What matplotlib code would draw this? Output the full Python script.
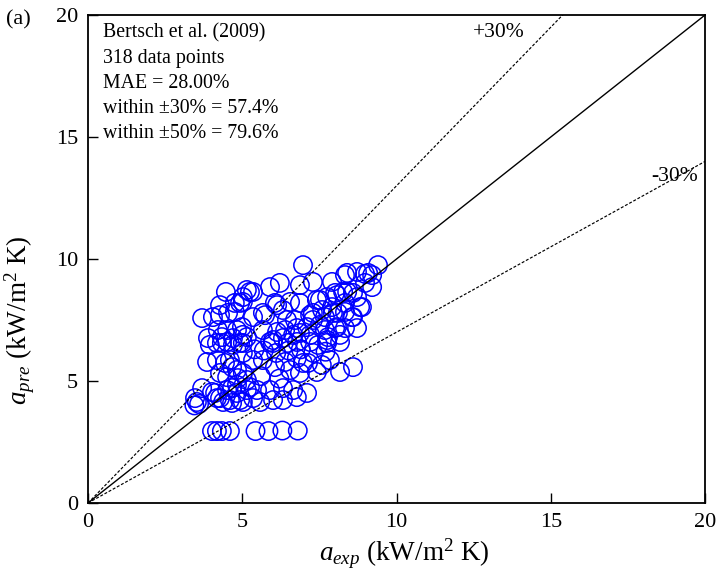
import matplotlib
matplotlib.use("Agg")
import matplotlib.pyplot as plt
import numpy as np

plt.rcParams["font.family"] = ["Liberation Serif", "DejaVu Serif"]
plt.rcParams["mathtext.fontset"] = "custom"
plt.rcParams["mathtext.rm"] = "Liberation Serif"
plt.rcParams["mathtext.it"] = "Liberation Serif:italic"

# experimental vs. predicted heat transfer coefficient (kW/m2 K)
a_exp = [
    4.47, 3.70, 4.05, 4.28, 4.54, 4.76, 4.93, 5.15, 3.89, 4.34, 4.70, 5.02,
    4.21, 4.83, 3.95, 4.34, 4.70, 5.02, 3.86, 4.18, 4.44, 4.67, 4.83, 5.02,
    4.28, 4.51, 3.70, 3.47, 3.53, 3.60, 4.02, 4.12, 4.28, 4.38, 4.67, 4.93,
    5.15, 4.67, 4.83, 5.15, 4.86, 4.51, 4.60, 5.02, 4.18, 4.60, 4.93, 5.02,
    4.51, 4.18, 3.45, 6.97, 7.29, 5.90, 6.22, 5.25, 5.02, 4.28, 4.76, 5.02,
    6.13, 6.55, 6.87, 7.52, 5.35, 5.74, 6.45, 6.71, 7.20, 7.59, 4.51, 4.99,
    5.15, 5.67, 6.13, 6.77, 7.10, 7.52, 6.00, 6.32, 6.65, 7.68, 8.40, 8.72,
    8.98, 9.21, 7.91, 6.87, 5.35, 9.21, 8.27, 8.59, 7.42, 7.75, 8.07, 6.06,
    8.82, 5.67, 6.32, 7.29, 7.94, 8.33, 8.59, 7.29, 8.07, 8.33, 8.72, 6.39,
    6.87, 7.20, 7.75, 9.40, 8.33, 9.08, 8.98, 8.01, 8.40, 8.72, 7.91, 8.33,
    8.88, 7.68, 8.10, 8.56, 8.01, 7.78, 8.17, 5.90, 6.48, 7.20, 7.75, 8.17,
    5.67, 6.06, 6.39, 6.77, 7.13, 7.42, 7.84, 7.58, 5.35, 6.87, 6.55, 8.17,
    8.59, 5.25, 5.48, 5.90, 6.32, 6.77, 7.10, 5.58, 6.00, 6.32, 5.35, 6.97,
    5.99, 6.78, 7.46, 6.65, 4.83, 5.40, 5.70, 6.10, 6.50, 6.90, 7.30, 7.70,
    5.60, 6.20,
    4.02, 4.18, 4.34, 4.60, 5.43, 5.85, 6.30, 6.80,
]
a_pre = [
    8.65, 7.58, 7.62, 7.70, 7.79, 7.83, 8.20, 8.73, 6.76, 6.80, 6.76, 6.89,
    7.09, 7.09, 6.48, 6.56, 6.48, 6.56, 5.78, 5.86, 5.74, 5.57, 5.45, 5.33,
    5.33, 5.16, 4.71, 4.30, 4.14, 4.06, 4.55, 4.51, 4.30, 4.14, 4.10, 4.22,
    4.63, 4.71, 4.84, 5.04, 5.12, 4.63, 4.22, 4.14, 4.30, 5.86, 6.56, 6.15,
    6.60, 6.56, 4.00, 9.75, 9.06, 8.85, 9.02, 8.65, 8.44, 8.11, 8.20, 8.24,
    8.11, 8.24, 8.20, 8.32, 7.62, 7.70, 7.50, 7.50, 7.70, 7.91, 7.09, 7.21,
    6.80, 7.09, 7.01, 7.17, 7.21, 7.30, 6.68, 6.76, 6.89, 7.09, 9.43, 9.47,
    9.39, 9.34, 9.06, 8.93, 8.65, 8.85, 8.65, 8.61, 8.32, 8.44, 8.52, 8.20,
    8.03, 7.79, 7.91, 7.79, 7.79, 7.83, 7.62, 7.50, 7.21, 7.17, 7.17, 7.09,
    6.97, 6.89, 6.68, 9.75, 9.34, 9.43, 9.02, 8.61, 8.65, 8.44, 8.03, 8.20,
    8.03, 7.62, 7.79, 7.62, 7.17, 6.80, 6.89, 6.60, 6.56, 6.60, 6.56, 6.60,
    5.86, 5.57, 5.78, 5.94, 5.74, 5.37, 5.86, 5.66, 5.86, 5.33, 5.45, 5.37,
    5.57, 4.75, 4.63, 4.63, 4.71, 4.34, 4.51, 4.14, 4.22, 4.22, 4.30, 5.74,
    6.56, 6.60, 6.48, 4.63, 4.51, 6.30, 6.25, 6.15, 6.25, 6.30, 6.15, 6.20,
    5.20, 5.10,
    2.95, 2.95, 2.95, 2.95, 2.95, 2.95, 2.97, 2.97,
]

axis_max = 20
band = 0.30
ticks = [0, 5, 10, 15, 20]
stats_lines = [
    "Bertsch et al. (2009)",
    "318 data points",
    "MAE = 28.00%",
    "within \u00b130% = 57.4%",
    "within \u00b150% = 79.6%",
]

fig = plt.figure(figsize=(7.17, 5.82), dpi=100)
ax = fig.add_axes([0.1227, 0.1357, 0.8606, 0.8385])

ax.scatter(a_exp, a_pre, s=175, facecolors="none", edgecolors="#0000ff",
           linewidths=1.1, zorder=2)

ref = np.array([0, axis_max])
ax.plot(ref, ref, color="black", lw=1.0, zorder=3)
ax.plot(ref, ref * (1 + band), color="black", lw=0.85,
        linestyle=(0, (2.5, 1.5)), zorder=3)
ax.plot(ref, ref * (1 - band), color="black", lw=0.85,
        linestyle=(0, (2.5, 1.5)), zorder=3)

ax.text(13.3, 19.3, "+30%", fontsize=15.5, ha="center", va="center")
ax.text(19.0, 13.4, "-30%", fontsize=15.5, ha="center", va="center")

for i, line in enumerate(stats_lines):
    ax.text(0.5, 19.25 - i * 1.03, line, fontsize=14.3, ha="left", va="center")

ax.set_xlim(0, axis_max)
ax.set_ylim(0, axis_max)
ax.set_xticks(ticks)
ax.set_yticks(ticks)
ax.tick_params(direction="in", length=7, width=1.0, labelsize=16,
               top=False, right=False, pad=7)
for sp in ax.spines.values():
    sp.set_linewidth(1.3)

ax.set_xlabel(r"$a_{exp}$ (kW/m$^2$ K)", fontsize=19.5)
ax.set_ylabel(r"$a_{pre}$ (kW/m$^2$ K)", fontsize=19.5)
ax.xaxis.set_label_coords(0.513, -0.07)
ax.yaxis.set_label_coords(-0.083, 0.375)

fig.text(0.025, 0.966, "(a)", fontsize=16, ha="center", va="center")

fig.savefig("out.png", dpi=100)
